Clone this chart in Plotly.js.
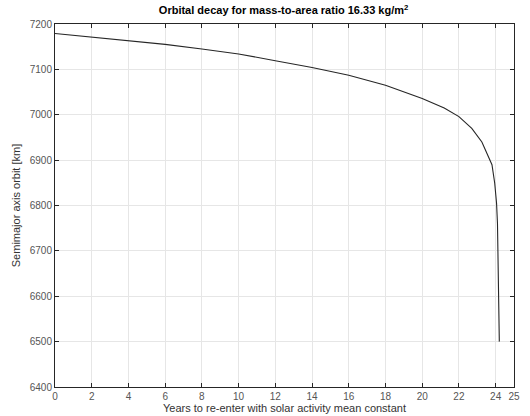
<!DOCTYPE html>
<html>
<head>
<meta charset="utf-8">
<script src="https://cdn.plot.ly/plotly-3.0.1.min.js"></script>
<style>html,body{margin:0;padding:0;background:#fff;}#chart{width:530px;height:416px;}</style>
</head>
<body>
<div id="chart"></div>
<script>
var years = [0, 2, 4, 6, 8, 10, 12, 14, 16, 18, 20, 20.5, 21.2, 22, 22.7, 23.25, 23.6, 23.8, 23.95, 24.05, 24.1, 24.13, 24.16, 24.2];
var semimajor = [7179, 7171, 7163, 7155, 7145, 7134, 7119, 7104, 7087, 7065, 7036, 7027, 7015, 6996, 6970, 6940, 6908, 6890, 6849, 6805, 6760, 6700, 6600, 6500];
var xTicks = [0, 2, 4, 6, 8, 10, 12, 14, 16, 18, 20, 22, 24, 25];
var yTicks = [6400, 6500, 6600, 6700, 6800, 6900, 7000, 7100, 7200];

var trace = {
  x: years, y: semimajor, type: 'scatter', mode: 'lines',
  line: {color: '#262626', width: 1.1}, hoverinfo: 'skip'
};
var axisCommon = {
  showline: true, mirror: 'ticks', linecolor: '#262626', linewidth: 1,
  ticks: 'inside', ticklen: 4, tickcolor: '#262626',
  showgrid: true, gridcolor: '#e6e6e6', gridwidth: 1, zeroline: false,
  tickfont: {family: 'Liberation Sans, Arial, sans-serif', size: 10, color: '#555555'}
};
var layout = {
  width: 530, height: 416,
  margin: {l: 55, r: 16, t: 24, b: 29},
  paper_bgcolor: '#ffffff', plot_bgcolor: '#ffffff',
  showlegend: false,
  title: {
    text: '<b>Orbital decay for mass-to-area ratio 16.33 kg/m<sup>2</sup></b>',
    font: {family: 'Liberation Sans, Arial, sans-serif', size: 11, color: '#000000'},
    x: 0.535, xanchor: 'center', y: 0.975, yanchor: 'middle'
  },
  xaxis: Object.assign({}, axisCommon, {
    range: [0, 25], tickmode: 'array', tickvals: xTicks, ticktext: xTicks.map(String),
    title: {text: 'Years to re-enter with solar activity mean constant', standoff: 3,
      font: {family: 'Liberation Sans, Arial, sans-serif', size: 11, color: '#333333'}}
  }),
  yaxis: Object.assign({}, axisCommon, {
    range: [6400, 7200], tickmode: 'array', tickvals: yTicks, ticktext: yTicks.map(String),
    title: {text: 'Semimajor axis orbit [km]', standoff: 6,
      font: {family: 'Liberation Sans, Arial, sans-serif', size: 11, color: '#333333'}}
  })
};
Plotly.newPlot('chart', [trace], layout, {staticPlot: true, displayModeBar: false});
</script>
</body>
</html>
